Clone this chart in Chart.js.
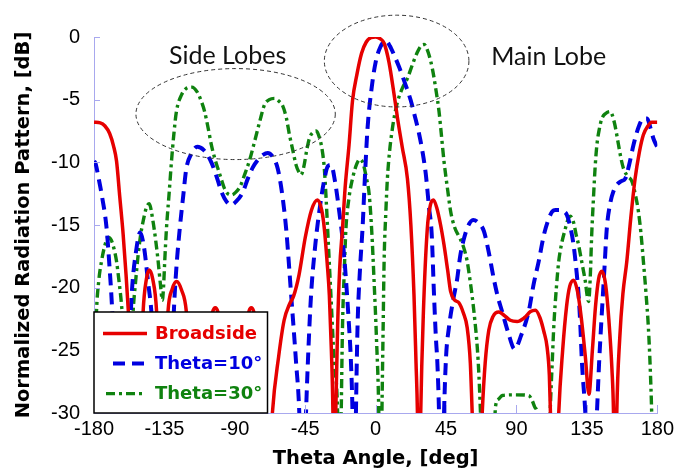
<!DOCTYPE html>
<html><head><meta charset="utf-8">
<script src="https://cdn.jsdelivr.net/npm/chart.js@4/dist/chart.umd.min.js"></script>
<style>html,body{margin:0;padding:0;background:#fff;}#wrap{width:678px;height:472px;}</style>
</head><body><div id="wrap"><canvas id="c" width="678" height="472"></canvas></div>
<script>
const seriesNames = ['Broadside', 'Theta=10°', 'Theta=30°'];
const xTickValues = [-180, -135, -90, -45, 0, 45, 90, 135, 180];
const yTickValues = [0, -5, -10, -15, -20, -25, -30];
const xTitle = 'Theta Angle, [deg]';
const yTitle = 'Normalized Radiation Pattern, [dB]';
const annotationLabels = ['Side Lobes', 'Main Lobe'];

const broadsideAngle = [-180,-176,-173,-170,-167.5,-165.6,-163.5,-161.4,-159.5,-158,-156,-154.5,-151.5,-150,-148.6,-146.5,-144.7,-142.5,-140,-138.5,-136.5,-134.5,-132.7,-130,-127.2,-124,-121,-119,-116,-109,-106,-102.5,-99,-96,-91,-85,-82.3,-79.5,-76.5,-73.5,-70,-66,-62,-58.5,-55,-52.5,-49,-45,-41,-37.2,-34.5,-32.8,-31,-29.6,-28.3,-27.3,-26.5,-25.5,-24.3,-23,-21.2,-19.5,-17,-14.8,-12,-9,-6,-3,0,3,5.4,8.5,11.8,14,17,20.3,22.5,24.5,25.8,26.7,27.7,28.8,30.5,33,35,36.9,39,41.5,43.7,46,47.9,50.5,53.2,56,58.5,60.5,61.7,65,68.1,70,72.3,75,78.7,82,86,90.4,95,99,102.1,105,107.5,109.5,111,111.7,114.5,117,119.5,122,124,126.5,129,131.5,134,136.3,138.5,140.5,142.5,144.6,147,149,151,152,153,154.1,156,158,160.5,163,165.8,168.5,171.1,174,176.4,180];
const broadsideDb = [-6.8,-6.85,-7.1,-7.7,-8.7,-9.9,-12.8,-15.7,-19,-22,-27,-40,-40,-27,-21.9,-19.3,-18.6,-19.3,-21.9,-27,-40,-27,-21.9,-20.1,-19.5,-20.2,-21.9,-26,-40,-30,-23.5,-21.6,-23.5,-30,-40,-30,-23.2,-21.6,-23.2,-30,-40,-30,-25.5,-22.6,-21.3,-20.7,-19,-16,-13.8,-13,-13.8,-15.3,-18,-20.6,-25,-30,-40,-30,-23,-18.5,-15.3,-12,-8.6,-5.1,-3,-1.3,-0.4,-0.05,0,-0.15,-0.5,-2,-4.6,-6.5,-8.8,-11.3,-15,-20.6,-26,-30,-40,-30,-22,-15.3,-13.4,-13,-13.6,-15,-16.6,-18.6,-20.3,-21,-21.2,-22,-23.2,-26,-30,-40,-30,-26,-23.4,-22.3,-21.95,-22.2,-22.6,-22.7,-22.4,-21.9,-21.8,-22.4,-23.5,-24.7,-27,-30,-40,-30,-25,-21.5,-19.9,-19.4,-20.3,-22.5,-25.5,-28.5,-25,-21.5,-19.3,-18.7,-19.8,-22.5,-26.5,-30,-40,-30,-24,-20.5,-17.9,-14.5,-11.3,-9.2,-7.8,-7.1,-6.8,-6.8];

const theta10Angle = [-180,-179,-177,-175.2,-172,-170,-168.5,-167,-165.5,-159,-156,-153,-150.5,-148,-145.5,-143,-141,-137,-131,-129,-127.4,-125.2,-123,-121,-117.7,-114,-110,-105,-101.5,-98.7,-95.5,-92.5,-89,-85,-81.7,-78.5,-75.3,-72,-69,-65.5,-62.6,-60,-57.2,-54,-50.9,-48.8,-46.7,-44.5,-43,-41.3,-38.5,-36,-33,-30.5,-28.5,-26,-23.3,-21,-19,-17.3,-15.8,-14.8,-13.7,-12.6,-11.6,-10,-8.4,-6.8,-5.2,-2.5,0,3,6.5,9,12,15,18.5,22.4,25,27.7,30,32,34.1,35.8,37.3,38.5,39.4,40.5,42,43.7,45,46.8,49.5,52.1,54,56.4,59,62.3,65.5,69.2,72,75.5,78,80.8,84.5,88.8,93,97.8,101,104.2,107.5,110.6,113,114.9,117.5,120.1,122.2,124.5,126.5,128.2,129.7,130.8,131.8,134,137.5,141.4,142.8,144.6,146.2,147.7,150,152,154.1,157,159.5,162,164.8,168,171.1,173.5,175.5,177.5,180];
const theta10Db = [-9.9,-10.1,-11.3,-12.5,-15.2,-18.5,-21.5,-26,-40,-30,-20.75,-17,-15.6,-16.8,-19.5,-22.5,-28,-40,-30,-22,-18.5,-15.3,-12.7,-10.5,-9.3,-8.75,-9,-10,-11.2,-12.3,-13.1,-13.4,-13.1,-12.4,-11.3,-10.4,-9.8,-9.4,-9.25,-9.6,-10.5,-12.3,-15.3,-20.6,-25.9,-30,-40,-30,-25,-20.6,-16.5,-13.9,-11.5,-10.3,-10.2,-11.5,-13.9,-16.3,-19.3,-22.5,-25.9,-30,-40,-30,-23.2,-18.5,-15.3,-11,-7.3,-4,-2,-0.8,-0.3,-0.7,-1.5,-2.4,-3.6,-5.05,-6.3,-7.7,-9.2,-10.9,-13.6,-15.7,-20.6,-24,-25.9,-30,-40,-30,-25.5,-23.2,-21,-19.3,-17.5,-16.1,-15.1,-14.6,-14.8,-15.5,-17,-19.3,-20.7,-21.9,-23.5,-24.9,-23.8,-21.9,-19.7,-17.9,-15.8,-14.5,-13.9,-13.8,-13.8,-13.9,-14.2,-15.2,-16.6,-18.5,-20.6,-23,-25.9,-30,-40,-30,-26,-21.9,-18.5,-15.3,-13.2,-12.3,-11.8,-11.5,-11.3,-10.2,-8.6,-7.2,-6.5,-6.5,-7.2,-8.1,-8.8];

const theta30Angle = [-180,-179,-178.4,-177,-175.2,-173,-171,-169,-167,-165.6,-164,-162.4,-160.5,-158.8,-156.5,-155,-153.4,-151.8,-150.2,-148.6,-146.5,-144.7,-142.3,-140.6,-139,-137.5,-136.3,-135.5,-134.8,-133.7,-132,-130.5,-129,-127.4,-124,-121,-117.5,-114,-111.5,-109.3,-107,-105,-102.8,-100.8,-98.5,-96.6,-94.5,-92,-89.5,-86.5,-83.8,-80.5,-77.4,-74,-71,-68,-64.7,-62,-59.4,-57,-55.1,-53,-50.9,-49,-47.7,-46,-44,-42.4,-40,-38,-36,-34.2,-32.8,-31.7,-30.7,-28.6,-26.5,-24.3,-23,-22,-21.2,-20,-19,-17,-14.8,-12,-10,-8,-6,-4.1,-2.5,-1,0.5,2,3,4,4.8,5.4,6.5,7.5,9,10.7,12.3,13.9,17,20.3,23.5,26.7,29,31,33.5,36.2,38.5,40.5,42,43.7,45.8,47.9,50.5,53.2,56,58.5,60.2,61.7,63.3,64.9,66,67,70,74,76.6,78.5,81,89,97.8,100,102,103.2,106,109,111.5,113,113.8,115.5,117,119,121,122.5,124.4,126.5,128,129.7,131.5,133,134,135,136.1,137.2,138,139.3,140.3,141.4,143,144.6,147,149.9,152.5,155.2,156.8,158.4,161,163.7,166,167.9,169.5,171.1,172.8,174.3,175.5,176.4,178,180];
const theta30Db = [-27.2,-24.5,-21.9,-19.5,-17.9,-16.6,-16,-16.2,-17,-17.9,-19.5,-21.4,-25,-40,-26,-21.9,-19.5,-17.4,-15.8,-14.7,-13.6,-13.3,-14.7,-16.2,-17.9,-19.8,-21,-19.8,-17.9,-15.3,-12.5,-9.95,-7.8,-6,-4.6,-4.1,-4,-4.4,-5.1,-5.95,-7.3,-8.6,-9.7,-10.5,-11.4,-12.1,-12.5,-12.6,-12.4,-11.9,-11,-9.8,-8.35,-6.7,-5.4,-5,-4.9,-5.1,-5.5,-6.5,-7.8,-9,-10.2,-10.8,-11,-10.4,-9,-8.1,-7.6,-7.5,-8,-9,-10.5,-12.8,-15.3,-20.6,-25.9,-30,-40,-30,-23.2,-18.5,-15.3,-12.8,-11.3,-10.1,-9.75,-10.1,-11.2,-12.6,-15.5,-19.5,-24,-30,-40,-30,-23,-17.9,-14,-11.3,-9,-7.3,-6.1,-5.2,-4.1,-3.3,-2.2,-1.2,-0.7,-0.6,-1.2,-2.5,-4.2,-5.95,-7.8,-9.95,-12,-13.9,-15.2,-15.9,-16.7,-17.9,-19.3,-20.7,-22.5,-24.7,-27,-30,-40,-40,-29.5,-28.9,-28.6,-28.55,-28.6,-29,-29.6,-30,-40,-40,-30,-25.5,-23.2,-20,-17.9,-16.4,-15.4,-14.7,-14.3,-14.8,-15.7,-16.6,-17.8,-18.8,-19.5,-20.5,-21.1,-19,-16,-12.6,-10.3,-8.6,-7.3,-6.5,-6.1,-5.95,-6.8,-8.6,-9.7,-10.5,-11.1,-11.5,-12.6,-13.9,-15.6,-17.9,-20.5,-23.2,-26.5,-30,-40,-40];

const colors = ['#e60000', '#0000e0', '#0f820f'];
const dashes = [[], [12, 7], [9, 4, 3, 4]];
const widths = [3.5, 4, 3.4];
const tickFont = '"Liberation Sans", Arial, sans-serif';
const boldFont = '"DejaVu Sans", Verdana, sans-serif';

function pts(a, d) { return a.map((x, i) => ({ x: x, y: d[i] })); }
const seriesData = [pts(broadsideAngle, broadsideDb), pts(theta10Angle, theta10Db), pts(theta30Angle, theta30Db)];

const overlay = {
  id: 'overlay',
  afterDatasetsDraw(chart) {
    const ctx = chart.ctx, ca = chart.chartArea;
    const xs = chart.scales.x, ys = chart.scales.y;
    ctx.save();
    ctx.strokeStyle = '#a8a8ee'; ctx.lineWidth = 1;
    xTickValues.forEach(v => { const px = Math.round(xs.getPixelForValue(v)) + 0.5; ctx.beginPath(); ctx.moveTo(px, ca.bottom); ctx.lineTo(px, ca.bottom - 8); ctx.stroke(); });
    yTickValues.forEach(v => { const py = Math.round(ys.getPixelForValue(v)) + 0.5; ctx.beginPath(); ctx.moveTo(ca.left, py); ctx.lineTo(ca.left + 6, py); ctx.stroke(); });
    ctx.strokeStyle = '#333'; ctx.lineWidth = 1; ctx.setLineDash([4, 3]);
    const ell = (cx, cy, rx, ry) => {
      const px = xs.getPixelForValue(cx), py = ys.getPixelForValue(cy);
      const rpx = Math.abs(xs.getPixelForValue(cx + rx) - px), rpy = Math.abs(ys.getPixelForValue(cy - ry) - py);
      ctx.beginPath(); ctx.ellipse(px, py, rpx, rpy, 0, 0, Math.PI * 2); ctx.stroke();
    };
    ell(-89.5, -6.15, 63.7, 3.63);
    ell(13.4, -1.92, 46.2, 3.66);
    ctx.setLineDash([]);
    ctx.fillStyle = '#111'; ctx.font = '25px Lato'; ctx.textAlign = 'center'; ctx.textBaseline = 'alphabetic';
    ctx.fillText(annotationLabels[0], xs.getPixelForValue(-94.6), ys.getPixelForValue(-2.18));
    ctx.fillText(annotationLabels[1], xs.getPixelForValue(110.6), ys.getPixelForValue(-2.26));
    const bx = ca.left, bw = 173.5, bh = 101, by = ca.bottom - bh;
    ctx.fillStyle = '#fff'; ctx.fillRect(bx, by, bw, bh);
    ctx.strokeStyle = '#000'; ctx.lineWidth = 1.5; ctx.strokeRect(bx, by, bw, bh);
    const sx0 = [9, 19, 12], sx1 = [53, 54, 50];
    ctx.font = 'bold 18px ' + boldFont; ctx.textAlign = 'left'; ctx.textBaseline = 'middle';
    seriesNames.forEach((n, i) => {
      const yy = by + 21.6 + 30 * i;
      ctx.strokeStyle = colors[i]; ctx.lineWidth = widths[i]; ctx.setLineDash(dashes[i]);
      ctx.beginPath(); ctx.moveTo(bx + sx0[i], yy); ctx.lineTo(bx + sx1[i], yy); ctx.stroke();
      ctx.setLineDash([]);
      ctx.fillStyle = colors[i]; ctx.fillText(n, bx + 61, yy + 1);
    });
    ctx.restore();
  }
};

new Chart(document.getElementById('c'), {
  type: 'line',
  data: {
    datasets: seriesData.map((d, i) => ({
      label: seriesNames[i], data: d, borderColor: colors[i], backgroundColor: colors[i],
      borderWidth: widths[i], borderDash: dashes[i], pointRadius: 0, fill: false,
      cubicInterpolationMode: 'monotone', borderCapStyle: 'butt'
    }))
  },
  options: {
    responsive: false, animation: false, devicePixelRatio: 1,
    layout: { padding: { top: 37, right: 19, left: 0, bottom: 0 } },
    plugins: { legend: { display: false }, tooltip: { enabled: false } },
    scales: {
      x: {
        type: 'linear', min: -180, max: 180,
        afterBuildTicks: s => { s.ticks = xTickValues.map(v => ({ value: v })); },
        afterFit: s => { s.height = 59; },
        grid: { display: false, drawTicks: false },
        border: { display: true, color: '#a8a8ee', width: 1 },
        ticks: { color: '#000', padding: 4, maxRotation: 0, autoSkip: false, font: { family: tickFont, size: 20 } },
        title: { display: true, text: xTitle, color: '#000', padding: { top: 0, bottom: 1 }, font: { family: boldFont, size: 19.5, weight: 'bold' } }
      },
      y: {
        type: 'linear', min: -30, max: 0,
        afterBuildTicks: s => { s.ticks = yTickValues.map(v => ({ value: v })); },
        afterFit: s => { s.width = 94; },
        grid: { display: false, drawTicks: false },
        border: { display: true, color: '#a8a8ee', width: 1 },
        ticks: { color: '#000', padding: 14, autoSkip: false, font: { family: tickFont, size: 20 } },
        title: { display: true, text: yTitle, color: '#000', padding: { top: 12, bottom: 0 }, font: { family: boldFont, size: 19.5, weight: 'bold' } }
      }
    }
  },
  plugins: [overlay]
});
</script></body></html>
